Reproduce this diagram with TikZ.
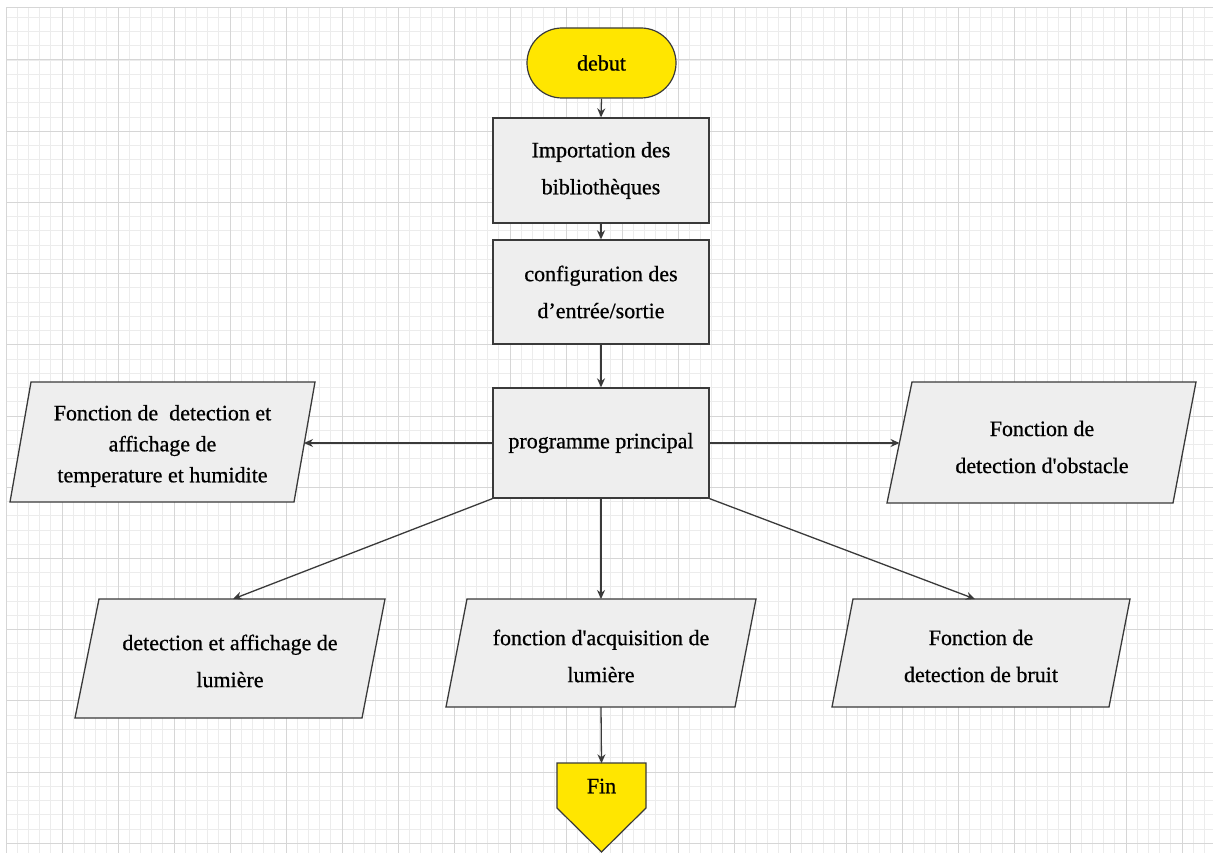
\documentclass[tikz,border=0pt]{standalone}
\usepackage{fontspec}
\setmainfont{Liberation Serif}
\usetikzlibrary{arrows.meta,calc}
\definecolor{flowyellow}{RGB}{255,230,0}
\definecolor{boxgray}{RGB}{238,238,238}
\definecolor{edgegray}{RGB}{58,58,58}
\definecolor{gridminor}{RGB}{236,236,236}
\definecolor{gridmajor}{RGB}{214,214,214}
\newcommand{\flowfont}[1]{\fontsize{22}{#1}\selectfont\addfontfeature{FakeBold=0.7}}
\begin{document}
\begin{tikzpicture}[x=1pt,y=-1pt,
  every node/.style={font=\flowfont{37}, align=center, text=black, inner sep=0pt},
  procbox/.style={draw=edgegray, line width=1.3pt, fill=boxgray, minimum width=216pt},
  terminal/.style={draw=edgegray, line width=1.2pt, fill=flowyellow, minimum width=149pt,
    minimum height=70pt, rounded corners=35pt},
  ioshape/.style={draw=edgegray, line width=1.3pt, fill=boxgray},
  endshape/.style={draw=edgegray, line width=1.2pt, fill=flowyellow},
  flow/.style={draw=edgegray, line width=1.3pt, -{Stealth[length=9pt,width=8pt]}},
  minorline/.style={draw=gridminor, line width=0.8pt},
  majorline/.style={draw=gridmajor, line width=1pt},
  ]
\useasboundingbox (0,0) rectangle (1213,853);
\fill[white] (0,0) rectangle (1213,853);

% background grid
\foreach \i in {0,...,108} \draw[minorline] ({6+11.2*\i},8) -- ({6+11.2*\i},853);
\foreach \k in {-3,...,55} \draw[minorline] (6,{60+14.24*\k}) -- (1213,{60+14.24*\k});
\foreach \i in {0,...,21} \draw[majorline] ({6+56*\i},8) -- ({6+56*\i},853);
\foreach \j in {0,...,11} \draw[majorline] (6,{60+71.2*\j}) -- (1213,{60+71.2*\j});
\draw[majorline] (6,8) -- (1213,8);

% main column
\node[terminal] (debut) at (601.5,63) {debut};
\node[procbox, minimum height=105pt] (imp) at (601,170.5) {Importation des\\bibliothèques};
\node[procbox, minimum height=104pt] (conf) at (601,292) {configuration des\\d’entrée/sortie};
\node[procbox, minimum height=110pt] (prog) at (601,443) {programme principal};

% side functions
\draw[ioshape] (31,382) -- (315,382) -- (294,502) -- (10,502) -- cycle;
\node[font=\flowfont{31}] (lpar) at (162.5,446)
  {Fonction de\ \ detection et\\affichage de\\temperature et humidite};
\coordinate (lpar-in) at (304,443);

\draw[ioshape] (912,382) -- (1196,382) -- (1173,503) -- (887,503) -- cycle;
\node (rpar) at (1042,447) {Fonction de\\detection d\textquotesingle obstacle};
\coordinate (rpar-in) at (899.5,443);

% lower functions
\draw[ioshape] (99,599) -- (385,599) -- (362,718) -- (75,718) -- cycle;
\node (bl) at (230,661) {detection et affichage de\\lumière};
\coordinate (bl-in) at (233,599);

\draw[ioshape] (467,599) -- (756,599) -- (735,707) -- (446,707) -- cycle;
\node (bm) at (601,656) {fonction d\textquotesingle acquisition de\\lumière};
\coordinate (bm-in) at (601,599);
\coordinate (bm-out) at (601,707);

\draw[ioshape] (853,599) -- (1130,599) -- (1109,707) -- (832,707) -- cycle;
\node (br) at (981,656) {Fonction de\\detection de bruit};
\coordinate (br-in) at (975,599);

% end marker
\draw[endshape] (557,763) -- (646,763) -- (646,808) -- (601.5,852) -- (557,808) -- cycle;
\node[minimum width=89pt, minimum height=45pt] (fin) at (601.5,786) {Fin};

% connectors
\draw[flow] (debut.south) -- (imp.north);
\draw[flow] (imp.south) -- (conf.north);
\draw[flow] (conf.south) -- (prog.north);
\draw[flow] (prog.west) -- (lpar-in);
\draw[flow] (prog.east) -- (rpar-in);
\draw[flow] (prog.south west) -- (bl-in);
\draw[flow] (prog.south) -- (bm-in);
\draw[flow] (prog.south east) -- (br-in);
\draw[flow] (bm-out) -- (fin.north);
\end{tikzpicture}
\end{document}
